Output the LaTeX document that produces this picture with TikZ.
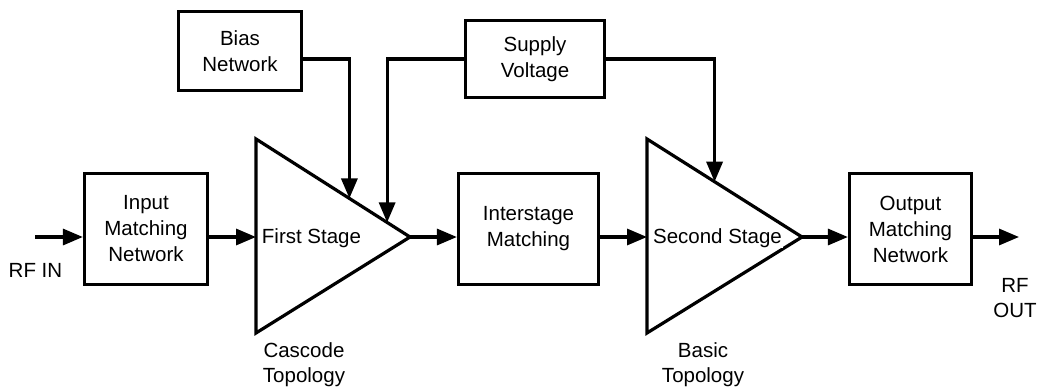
\documentclass[tikz,border=0pt]{standalone}
\usepackage{fontspec}
\setmainfont{Liberation Sans}
\usetikzlibrary{arrows.meta,calc}
\begin{document}
\begin{tikzpicture}[x=1pt,y=-1pt,line width=3.2pt,
  blk/.style={draw,rectangle,align=center,font=\fontsize{20.5}{26}\selectfont,inner sep=0pt},
  lbl/.style={align=center,font=\fontsize{20.5}{25}\selectfont,inner sep=0pt},
  arr/.style={-{Triangle[length=20pt,width=16pt]}}]
\useasboundingbox (0,0) rectangle (1062,388);

% boxes
\node[blk,minimum width=123pt,minimum height=79pt] (bias) at (240,51) {Bias\\Network};
\node[blk,minimum width=139pt,minimum height=77pt] (supply) at (535,59) {Supply\\Voltage};
\node[blk,minimum width=123pt,minimum height=111pt] (input) at (146,229) {Input\\Matching\\Network};
\node[blk,minimum width=140pt,minimum height=111pt] (inter) at (528.5,229) {Interstage\\Matching};
\node[blk,minimum width=122pt,minimum height=111pt] (output) at (910.5,229) {Output\\Matching\\Network};

% triangles
\coordinate (t1top) at (256,139);
\coordinate (t1bot) at (256,333);
\coordinate (t1tip) at (410,237);
\coordinate (t1in) at (256,237);
\coordinate (t2top) at (647,139);
\coordinate (t2bot) at (647,333);
\coordinate (t2tip) at (802,237);
\coordinate (t2in) at (647,237);
\draw[line join=miter] (t1top) -- (t1tip) -- (t1bot) -- cycle;
\draw[line join=miter] (t2top) -- (t2tip) -- (t2bot) -- cycle;

\node[lbl,anchor=base] (fs) at (311.5,243) {First Stage};
\node[lbl,anchor=base,fill=white,inner sep=1pt] (ss) at (717.5,243) {Second Stage};
\node[lbl,anchor=base] (casc) at (304,382) {Cascode\\Topology};
\node[lbl,anchor=base] (basic) at (703,382) {Basic\\Topology};
\node[lbl,anchor=base] (rfinl) at (35.5,277) {RF IN};
\node[lbl,anchor=base] (rfoutl) at (1015,317) {RF\\OUT};

% terminals and edge points
\coordinate (rfin) at (35,237);
\coordinate (rfout) at (1019,237);
\coordinate (b1) at ($(t1top)!0.6065!(t1tip)$);
\coordinate (s1) at ($(t1top)!0.8516!(t1tip)$);
\coordinate (s2) at ($(t2top)!0.436!(t2tip)$);

% signal path
\draw[arr] (rfin) -- (rfin -| input.west);
\draw[arr] (t1in -| input.east) -- (t1in);
\draw[arr] (t1tip) -- (t1tip -| inter.west);
\draw[arr] (t2in -| inter.east) -- (t2in);
\draw[arr] (t2tip) -- (t2tip -| output.west);
\draw[arr] (rfout -| output.east) -- (rfout);

% bias / supply
\draw[arr] ($(bias.east)+(0,8)$) -| (b1);
\draw[arr] (supply.west) -| (s1);
\draw[arr] (supply.east) -| (s2);
\end{tikzpicture}
\end{document}
